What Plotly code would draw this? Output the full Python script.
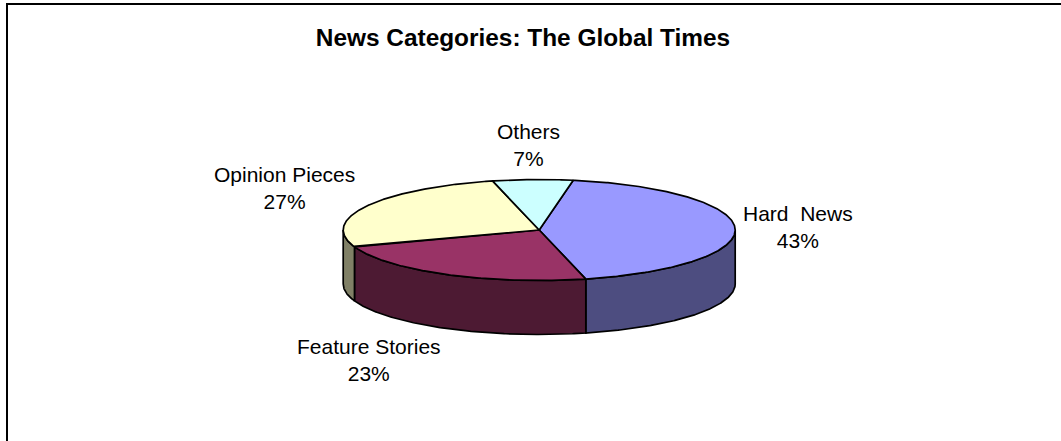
import math
import plotly.graph_objects as go

categories = ["Hard News", "Feature Stories", "Opinion Pieces", "Others"]
label_text = ["Hard\u00a0\u00a0News", "Feature Stories", "Opinion Pieces", "Others"]
values = [43.4, 23.4, 26.6, 6.6]
top_colors = ["#9999FF", "#993366", "#FFFFCC", "#CCFFFF"]
side_colors = ["#4D4D80", "#4D1A33", "#808066", "#668080"]
label_pos = [(798, 199.5), (368.5, 333), (284, 161), (528, 118)]
title_text = "News Categories: The Global Times"

CX, CY, A, B, DEPTH = 539.2, 230.0, 196.0, 50.5, 54.0
START = 10.0


def ell(deg, dz=0.0):
    t = math.radians(deg)
    return CX + A * math.sin(t), CY - B * math.cos(t) + dz


def arc(a0, a1):
    n = max(2, int(abs(a1 - a0) * 2))
    return [a0 + (a1 - a0) * i / n for i in range(n + 1)]


total = sum(values)
spans = []
cur = START
for v in values:
    spans.append((cur, cur + 360.0 * v / total))
    cur += 360.0 * v / total

fig = go.Figure()

# side walls (only the front half of the ellipse is visible)
for (a0, a1), col in zip(spans, side_colors):
    lo, hi = max(a0, 90.0), min(a1, 270.0)
    if hi <= lo:
        continue
    ang = arc(lo, hi)
    pts = [ell(d) for d in ang] + [ell(d, DEPTH) for d in reversed(ang)]
    pts.append(pts[0])
    fig.add_trace(go.Scatter(x=[p[0] for p in pts], y=[p[1] for p in pts], mode="lines",
                             fill="toself", fillcolor=col, line=dict(color="black", width=1.7),
                             hoverinfo="skip", showlegend=False))

# top faces
for (a0, a1), col in zip(spans, top_colors):
    pts = [(CX, CY)] + [ell(d) for d in arc(a0, a1)] + [(CX, CY)]
    fig.add_trace(go.Scatter(x=[p[0] for p in pts], y=[p[1] for p in pts], mode="lines",
                             fill="toself", fillcolor=col, line=dict(color="black", width=1.7),
                             hoverinfo="skip", showlegend=False))

# labels
for (x, y), name, v in zip(label_pos, label_text, values):
    fig.add_annotation(x=x, y=y, xref="x", yref="y", text=f"{name}<br>{round(v)}%", showarrow=False,
                       align="center", yanchor="top", xanchor="center",
                       font=dict(family="Liberation Sans, Arial", size=21, color="black"))

fig.update_layout(
    width=1061, height=441, margin=dict(l=0, r=0, t=0, b=0), autosize=False,
    paper_bgcolor="white", plot_bgcolor="white", showlegend=False,
    xaxis=dict(range=[0, 1061], visible=False, fixedrange=True),
    yaxis=dict(range=[441, 0], visible=False, fixedrange=True),
    title=dict(text=f"<b>{title_text}</b>", x=523 / 1061, xanchor="center", y=1 - 37 / 441, yanchor="middle",
               font=dict(family="Liberation Sans, Arial", size=24.4, color="black")),
    shapes=[dict(type="rect", xref="x", yref="y", x0=7, y0=4, x1=1100, y1=480,
                 line=dict(color="black", width=2), fillcolor="rgba(0,0,0,0)")],
)

fig.write_html("out.html", config={"displayModeBar": False},
               post_script="document.body.style.margin='0';document.body.style.overflow='hidden';")
